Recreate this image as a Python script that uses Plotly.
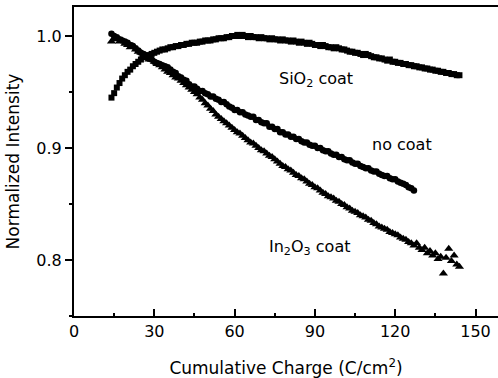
import plotly.graph_objects as go

# ---------------- data ----------------
sio2_x = list(range(14, 145))
sio2_y = [0.945, 0.949, 0.954, 0.958, 0.962, 0.965, 0.968, 0.970, 0.973, 0.975,
          0.977, 0.979, 0.981, 0.982, 0.983, 0.984, 0.985, 0.986, 0.987, 0.988,
          0.988, 0.989, 0.990, 0.990, 0.991, 0.991, 0.992, 0.992, 0.993, 0.993,
          0.994, 0.994, 0.994, 0.995, 0.995, 0.996, 0.996, 0.996, 0.997, 0.997,
          0.998, 0.998, 0.998, 0.999, 0.999, 1.000, 1.000, 1.001, 1.000, 1.001,
          1.000, 0.999, 1.000, 0.999, 0.999, 0.998, 0.999, 0.998, 0.998, 0.997,
          0.998, 0.997, 0.997, 0.996, 0.997, 0.996, 0.996, 0.995, 0.996, 0.995,
          0.994, 0.995, 0.994, 0.993, 0.994, 0.993, 0.992, 0.992, 0.991, 0.992,
          0.991, 0.990, 0.990, 0.989, 0.990, 0.989, 0.988, 0.988, 0.987, 0.986,
          0.986, 0.985, 0.985, 0.984, 0.983, 0.984, 0.983, 0.982, 0.981, 0.981,
          0.980, 0.980, 0.979, 0.978, 0.979, 0.977, 0.977, 0.976, 0.976, 0.975,
          0.975, 0.974, 0.974, 0.973, 0.973, 0.972, 0.972, 0.971, 0.971, 0.970,
          0.970, 0.969, 0.969, 0.968, 0.968, 0.967, 0.967, 0.966, 0.966, 0.965,
          0.965]

nocoat_x = list(range(14, 128))
nocoat_y = [1.002, 1.000, 0.999, 0.997, 0.996, 0.995, 0.994, 0.992, 0.991, 0.989,
            0.987, 0.985, 0.984, 0.982, 0.980, 0.979, 0.977, 0.976, 0.975, 0.974,
            0.973, 0.972, 0.970, 0.968, 0.967, 0.964, 0.963, 0.961, 0.960, 0.957,
            0.955, 0.955, 0.953, 0.951, 0.951, 0.949, 0.948, 0.946, 0.946, 0.944,
            0.943, 0.941, 0.941, 0.939, 0.937, 0.936, 0.934, 0.934, 0.932, 0.932,
            0.930, 0.929, 0.928, 0.928, 0.925, 0.925, 0.923, 0.922, 0.922, 0.919,
            0.919, 0.917, 0.917, 0.914, 0.914, 0.912, 0.912, 0.910, 0.910, 0.908,
            0.908, 0.906, 0.905, 0.905, 0.903, 0.902, 0.902, 0.900, 0.900, 0.898,
            0.897, 0.897, 0.895, 0.894, 0.894, 0.892, 0.892, 0.890, 0.889, 0.889,
            0.887, 0.886, 0.886, 0.884, 0.883, 0.882, 0.882, 0.880, 0.879, 0.879,
            0.877, 0.876, 0.875, 0.875, 0.873, 0.872, 0.872, 0.870, 0.869, 0.868,
            0.867, 0.865, 0.864, 0.862]

in2o3_x = list(range(14, 145))
in2o3_y = [0.995, 0.998, 0.997, 0.995, 0.996, 0.993, 0.992, 0.990, 0.991, 0.988,
           0.986, 0.985, 0.983, 0.981, 0.979, 0.979, 0.977, 0.975, 0.974, 0.972,
           0.970, 0.968, 0.967, 0.965, 0.963, 0.962, 0.960, 0.958, 0.956, 0.954,
           0.952, 0.950, 0.948, 0.945, 0.943, 0.940, 0.938, 0.935, 0.933, 0.930,
           0.928, 0.926, 0.924, 0.922, 0.920, 0.918, 0.916, 0.914, 0.913, 0.911,
           0.909, 0.907, 0.905, 0.904, 0.902, 0.900, 0.898, 0.897, 0.895, 0.893,
           0.892, 0.890, 0.888, 0.886, 0.884, 0.883, 0.881, 0.880, 0.878, 0.876,
           0.875, 0.873, 0.872, 0.870, 0.868, 0.867, 0.865, 0.864, 0.862, 0.860,
           0.859, 0.857, 0.856, 0.855, 0.853, 0.852, 0.850, 0.849, 0.847, 0.846,
           0.844, 0.843, 0.842, 0.840, 0.839, 0.838, 0.836, 0.835, 0.833, 0.832,
           0.830, 0.829, 0.828, 0.827, 0.825, 0.824, 0.823, 0.822, 0.820, 0.819,
           0.818, 0.816, 0.815, 0.813, 0.815, 0.811, 0.809, 0.811, 0.806, 0.808,
           0.804, 0.806, 0.801, 0.803, 0.788, 0.802, 0.810, 0.799, 0.804, 0.796,
           0.794]

x_ticks = [0, 30, 60, 90, 120, 150]
y_ticks = [0.8, 0.9, 1.0]
y_tick_labels = ["0.8", "0.9", "1.0"]

labels = ["SiO<sub>2</sub> coat", "no coat", "In<sub>2</sub>O<sub>3</sub> coat"]
label_x = [76, 110.5, 72]
label_y = [0.961, 0.903, 0.811]

FONT = "DejaVu Sans"

fig = go.Figure()
fig.add_trace(go.Scatter(x=sio2_x, y=sio2_y, mode="markers",
                         marker=dict(symbol="square", size=6, color="black"),
                         showlegend=False))
fig.add_trace(go.Scatter(x=nocoat_x, y=nocoat_y, mode="markers",
                         marker=dict(symbol="circle", size=6.5, color="black"),
                         showlegend=False))
fig.add_trace(go.Scatter(x=in2o3_x, y=in2o3_y, mode="markers",
                         marker=dict(symbol="triangle-up", size=8, color="black"),
                         showlegend=False))

for t, lx, ly in zip(labels, label_x, label_y):
    fig.add_annotation(x=lx, y=ly, text=t, showarrow=False, xanchor="left",
                       yanchor="middle", font=dict(family=FONT, size=16, color="black"))

fig.update_layout(
    width=498, height=378,
    margin=dict(l=74, r=0, t=7, b=62),
    plot_bgcolor="white", paper_bgcolor="white",
    font=dict(family=FONT, size=16, color="black"),
    xaxis=dict(range=[0, 158.4], tickvals=x_ticks, ticks="inside", ticklen=7,
               tickwidth=1.5, tickcolor="black", showline=True, linecolor="black",
               linewidth=2, mirror=True, showgrid=False, zeroline=False,
               minor=dict(dtick=15, tick0=0, ticks="inside", ticklen=3,
                          tickcolor="black", tickwidth=1.5, showgrid=False),
               title=dict(text="Cumulative Charge (C/cm<sup>2</sup>)",
                          font=dict(family=FONT, size=17), standoff=22),
               tickfont=dict(family=FONT, size=16)),
    yaxis=dict(range=[0.75, 1.0259], tickvals=y_ticks, ticktext=y_tick_labels,
               ticks="outside", ticklen=7, tickwidth=1.5, tickcolor="black",
               showline=True, linecolor="black", linewidth=2, mirror=False,
               showgrid=False, zeroline=False,
               minor=dict(dtick=0.05, tick0=0.75, ticks="outside", ticklen=3,
                          tickcolor="black", tickwidth=1.5, showgrid=False),
               title=dict(text="Normalized Intensity",
                          font=dict(family=FONT, size=17), standoff=12),
               tickfont=dict(family=FONT, size=16)),
)

fig.write_html("out.html")
